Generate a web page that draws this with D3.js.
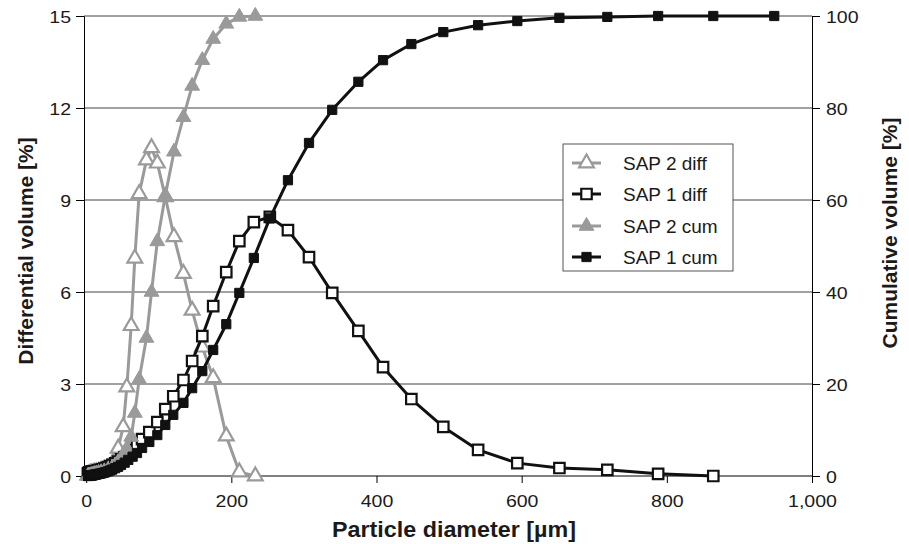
<!DOCTYPE html>
<html>
<head>
<meta charset="utf-8">
<script src="https://cdn.jsdelivr.net/npm/d3@7"></script>
<style>
  body { margin: 0; background: #fff; }
  svg { display: block; font-family: "Liberation Sans", Arial, Helvetica, sans-serif; }
</style>
</head>
<body>
<div id="chart"></div>
<script>
// particle sizes (µm) and values
var sap1Size = [2.5, 2.8, 3.1, 3.4, 3.7, 4.1, 4.5, 4.9, 5.4, 5.9, 6.5, 7.2, 7.9, 8.7, 9.6, 10.5, 11.6, 12.7, 14, 15.5, 17, 18.5, 20.5, 22.5, 25, 27, 30, 33, 36, 40, 44, 48, 53, 58, 64, 70, 77, 87, 98, 109, 120, 134, 146, 160, 175, 193, 211, 231, 253, 278, 307, 339, 375, 409, 448, 492, 540, 594, 652, 718, 788, 864, 948];
var sap1Diff = [0.08, 0.08, 0.09, 0.09, 0.1, 0.1, 0.11, 0.11, 0.12, 0.12, 0.13, 0.13, 0.14, 0.14, 0.15, 0.15, 0.15, 0.15, 0.16, 0.17, 0.18, 0.19, 0.2, 0.22, 0.24, 0.26, 0.29, 0.32, 0.36, 0.41, 0.47, 0.54, 0.62, 0.72, 0.85, 1.0, 1.2, 1.43, 1.76, 2.18, 2.6, 3.13, 3.75, 4.56, 5.54, 6.65, 7.66, 8.28, 8.45, 8.02, 7.14, 5.97, 4.73, 3.55, 2.51, 1.6, 0.85, 0.42, 0.26, 0.2, 0.07, 0.0, null];
var sap1Cum = [0.01, 0.01, 0.02, 0.02, 0.03, 0.04, 0.05, 0.06, 0.07, 0.09, 0.11, 0.13, 0.15, 0.18, 0.21, 0.24, 0.27, 0.3, 0.35, 0.4, 0.45, 0.5, 0.55, 0.65, 0.75, 0.85, 1.0, 1.2, 1.4, 1.7, 2.0, 2.4, 2.9, 3.5, 4.2, 5.0, 6.1, 7.4, 8.9, 11.1, 13.3, 15.9, 19.1, 22.8, 27.4, 33, 39.8, 47.4, 56, 64.3, 72.4, 79.6, 85.7, 90.4, 93.9, 96.5, 98.0, 98.9, 99.6, 99.8, 100, 100, 100];

var sap2Size = [2.5, 3.1, 3.7, 4.5, 5.4, 6.5, 7.9, 9.6, 11.6, 14, 17, 20.5, 25, 30, 36, 40, 44, 51, 56, 62, 67, 73, 83, 90, 98, 109, 121, 134, 146, 160, 175, 193, 211, 233];
var sap2Diff = [0.03, 0.04, 0.05, 0.06, 0.07, 0.08, 0.09, 0.1, 0.11, 0.12, 0.14, 0.17, 0.2, 0.26, 0.4, 0.55, 0.9, 1.6, 2.9, 4.9, 7.1, 9.2, 10.3, 10.7, 10.2, 9.1, 7.8, 6.6, 5.4, 4.2, 3.2, 1.3, 0.13, 0.0];
var sap2Cum = [0.0, 0.02, 0.04, 0.07, 0.1, 0.15, 0.2, 0.3, 0.4, 0.5, 0.65, 0.8, 1.0, 1.3, 1.8, 2.3, 3.0, 4.5, 6.0, 8.5, 13.7, 21, 30, 40, 51, 61, 70.5, 78, 84.8, 90.4, 95, 98.3, 99.8, 100];

var xTicks = [0, 200, 400, 600, 800, 1000];
var leftTicks = [0, 3, 6, 9, 12, 15];
var rightTicks = [0, 20, 40, 60, 80, 100];
var legendNames = ["SAP 2 diff", "SAP 1 diff", "SAP 2 cum", "SAP 1 cum"];

var W = 909, H = 544;
var gray = "#9a9a9a", black = "#111";
var stretch = 1.15; // labels in the picture are a bit wider than Arial

var svg = d3.select("#chart").append("svg")
  .attr("width", W).attr("height", H);

var x = d3.scaleLinear().domain([-3, 1000]).range([84, 812]);
var yL = d3.scaleLinear().domain([0, 15]).range([476, 16]);
var yR = d3.scaleLinear().domain([0, 100]).range([476, 16]);

// gridlines
svg.append("g")
  .selectAll("line")
  .data(leftTicks.slice(1))
  .enter().append("line")
    .attr("x1", x.range()[0]).attr("x2", x.range()[1])
    .attr("y1", function(d) { return yL(d); })
    .attr("y2", function(d) { return yL(d); })
    .attr("stroke", "#444").attr("stroke-width", 1);

// axes
var fmt = d3.format(",");
var gx = svg.append("g")
  .attr("transform", "translate(0," + yL(0) + ")")
  .call(d3.axisBottom(x).tickValues(xTicks).tickFormat(fmt).tickSize(7));
var gl = svg.append("g")
  .attr("transform", "translate(" + x.range()[0] + ",0)")
  .call(d3.axisLeft(yL).tickValues(leftTicks).tickSize(8));
var gr = svg.append("g")
  .attr("transform", "translate(" + x.range()[1] + ",0)")
  .call(d3.axisRight(yR).tickValues(rightTicks).tickSize(8));

[gx, gl, gr].forEach(function(g) {
  g.select(".domain").attr("stroke", "#000").attr("stroke-width", 1);
  g.selectAll(".tick line").attr("stroke", "#000");
  g.selectAll(".tick text").attr("font-size", 17).attr("fill", "#1a1a1a")
    .attr("font-family", "Liberation Sans, Arial, sans-serif")
    .attr("x", 0).attr("y", 0).attr("dy", null);
});
gx.select(".domain").attr("d", "M" + x.range()[0] + ",0H" + x.range()[1]);
gx.selectAll(".tick text").attr("transform", "translate(0,31) scale(" + stretch + ",1)");
gl.selectAll(".tick text").attr("transform", "translate(-13,6) scale(" + stretch + ",1)");
gr.selectAll(".tick text").attr("transform", "translate(14,6) scale(" + stretch + ",1)");

// axis titles
svg.append("text")
  .attr("transform", "translate(454,537) scale(1.06,1)")
  .attr("text-anchor", "middle")
  .attr("font-size", 22).attr("font-weight", "bold").attr("fill", "#1a1a1a")
  .text("Particle diameter [µm]");
svg.append("text")
  .attr("transform", "translate(33,251) rotate(-90)")
  .attr("text-anchor", "middle")
  .attr("font-size", 21).attr("font-weight", "bold").attr("fill", "#1a1a1a")
  .text("Differential volume [%]");
svg.append("text")
  .attr("transform", "translate(897,233) rotate(-90)")
  .attr("text-anchor", "middle")
  .attr("font-size", 21).attr("font-weight", "bold").attr("fill", "#1a1a1a")
  .text("Cumulative volume [%]");

function pairs(sizes, vals) {
  var out = [];
  sizes.forEach(function(s, i) {
    if (vals[i] !== null) out.push({s: s, v: vals[i]});
  });
  return out;
}

var triUp = d3.symbol().type(d3.symbolTriangle).size(95);
var sq = d3.symbol().type(d3.symbolSquare).size(110);
var sqSmall = d3.symbol().type(d3.symbolSquare).size(85);

var series = [
  {name: "SAP 2 diff", data: pairs(sap2Size, sap2Diff), y: yL, color: gray, sym: triUp, fill: "#fff", width: 3},
  {name: "SAP 1 diff", data: pairs(sap1Size, sap1Diff), y: yL, color: black, sym: sq, fill: "#fff", width: 3},
  {name: "SAP 2 cum", data: pairs(sap2Size, sap2Cum), y: yR, color: gray, sym: triUp, fill: gray, width: 3},
  {name: "SAP 1 cum", data: pairs(sap1Size, sap1Cum), y: yR, color: black, sym: sqSmall, fill: black, width: 3}
];

series.forEach(function(sr) {
  var line = d3.line()
    .x(function(d) { return x(d.s); })
    .y(function(d) { return sr.y(d.v); });
  var g = svg.append("g");
  g.append("path")
    .datum(sr.data)
    .attr("fill", "none")
    .attr("stroke", sr.color)
    .attr("stroke-width", sr.width)
    .attr("stroke-linejoin", "round")
    .attr("d", line);
  g.selectAll("path.pt")
    .data(sr.data)
    .enter().append("path")
      .attr("class", "pt")
      .attr("d", sr.sym)
      .attr("transform", function(d) { return "translate(" + x(d.s) + "," + sr.y(d.v) + ")"; })
      .attr("fill", sr.fill)
      .attr("stroke", sr.color)
      .attr("stroke-width", sr.fill === "#fff" ? 2.2 : 1);
});

// legend
var lg = svg.append("g").attr("transform", "translate(563,144)");
lg.append("rect")
  .attr("width", 170).attr("height", 127)
  .attr("fill", "#fff").attr("stroke", "#555").attr("stroke-width", 1);
var rowsY = [19, 50, 82, 113];
series.forEach(function(sr, i) {
  var r = lg.append("g").attr("transform", "translate(0," + rowsY[i] + ")");
  r.append("line")
    .attr("x1", 9).attr("x2", 38)
    .attr("stroke", sr.color).attr("stroke-width", 3);
  r.append("path")
    .attr("d", sr.sym)
    .attr("transform", "translate(23.5,0)")
    .attr("fill", sr.fill)
    .attr("stroke", sr.color)
    .attr("stroke-width", sr.fill === "#fff" ? 2.2 : 1);
  r.append("text")
    .attr("x", 60).attr("y", 7)
    .attr("font-size", 19).attr("fill", "#1a1a1a")
    .text(legendNames[i]);
});
</script>
</body>
</html>
